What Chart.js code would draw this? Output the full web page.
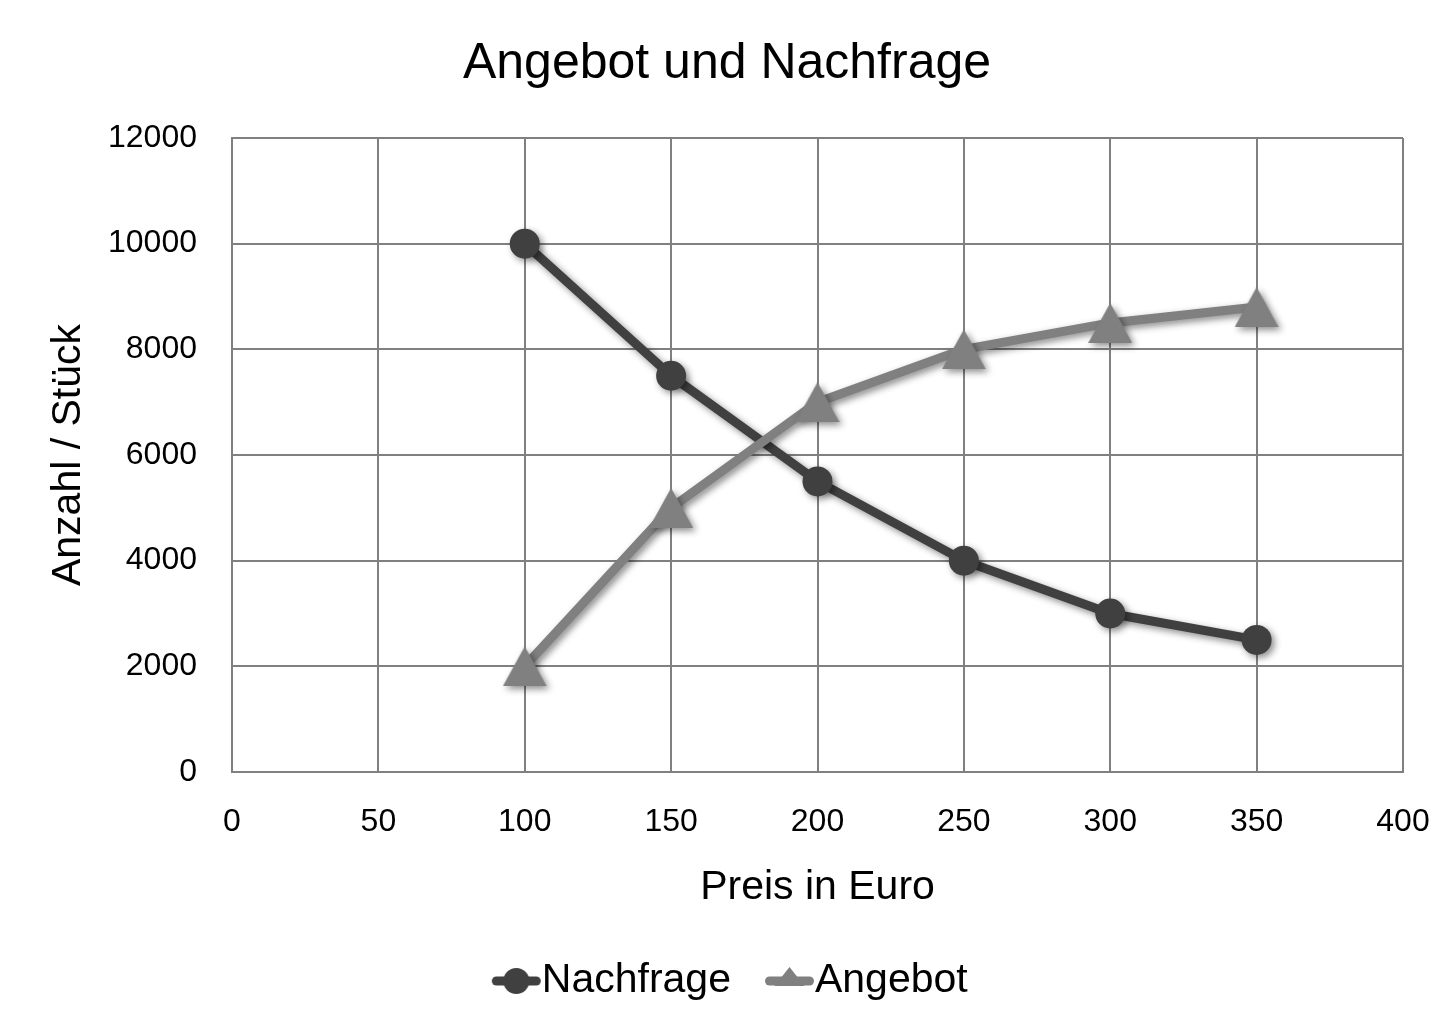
<!DOCTYPE html>
<html>
<head>
<meta charset="utf-8">
<script src="https://cdn.jsdelivr.net/npm/chart.js@4"></script>
<style>
html,body{margin:0;padding:0;background:#fff;}
#wrap{width:1454px;height:1025px;}
</style>
</head>
<body>
<div id="wrap"><canvas id="c" width="1454" height="1025"></canvas></div>
<script>
const chartTitle = "Angebot und Nachfrage";
const xTitle = "Preis in Euro";
const yTitle = "Anzahl / Stück";
const prices = [100, 150, 200, 250, 300, 350];
const nachfrage = [10000, 7500, 5500, 4000, 3000, 2500];
const angebot = [2000, 5000, 7000, 8000, 8500, 8800];
const seriesNames = ["Nachfrage", "Angebot"];
const xMin = 0, xMax = 400, xStep = 50;
const yMin = 0, yMax = 12000, yStep = 2000;

const DARK = '#404040';
const GREY = '#808080';
const FONT = '"Liberation Sans", Arial, sans-serif';
const LEG_B = 35;

function triangleImage(color, w, h) {
  const c = document.createElement('canvas');
  c.width = w; c.height = h;
  const x = c.getContext('2d');
  x.fillStyle = color;
  x.beginPath();
  x.moveTo(w / 2, 0);
  x.lineTo(w, h);
  x.lineTo(0, h);
  x.closePath();
  x.fill();
  return c;
}
const triPoint = triangleImage(GREY, 44, 40);

function legendImage(kind, color) {
  const W = LEG_B + 41;
  const H = 34;
  const c = document.createElement('canvas');
  c.width = W; c.height = H;
  const x = c.getContext('2d');
  const x0 = W - 50, x1 = W - 1, cy = H / 2;
  x.strokeStyle = color;
  x.fillStyle = color;
  x.lineWidth = 9;
  x.lineCap = 'round';
  x.beginPath();
  x.moveTo(x0 + 4.5, cy);
  x.lineTo(x1 - 4.5, cy);
  x.stroke();
  const mx = (x0 + x1) / 2;
  if (kind === 'circle') {
    x.beginPath();
    x.arc(mx, cy, 13, 0, Math.PI * 2);
    x.fill();
  } else {
    x.beginPath();
    x.moveTo(mx, cy - 14);
    x.lineTo(mx + 15, cy + 5);
    x.lineTo(mx - 15, cy + 5);
    x.closePath();
    x.fill();
  }
  return c;
}
const legNach = legendImage('circle', DARK);
const legAng = legendImage('triangle', GREY);

const shadowPlugin = {
  id: 'shadow',
  beforeDatasetsDraw(chart) {
    const ctx = chart.ctx;
    ctx.save();
    ctx.shadowColor = 'rgba(0,0,0,0.45)';
    ctx.shadowBlur = 7;
    ctx.shadowOffsetX = 3;
    ctx.shadowOffsetY = 3;
  },
  afterDatasetsDraw(chart) {
    chart.ctx.restore();
  }
};

const toPts = (arr) => prices.map((p, i) => ({x: p, y: arr[i]}));

new Chart(document.getElementById('c'), {
  type: 'line',
  data: {
    datasets: [
      {
        label: seriesNames[0],
        data: toPts(nachfrage),
        borderColor: DARK,
        backgroundColor: DARK,
        borderWidth: 9,
        pointRadius: 15,
        pointHoverRadius: 15,
        pointStyle: 'circle',
        pointBorderWidth: 0,
        tension: 0,
        borderCapStyle: 'round',
        borderJoinStyle: 'round',
        order: 1,
        clip: false
      },
      {
        label: seriesNames[1],
        data: toPts(angebot),
        borderColor: GREY,
        backgroundColor: GREY,
        borderWidth: 9,
        pointRadius: 22,
        pointHoverRadius: 22,
        pointStyle: triPoint,
        pointBorderWidth: 0,
        tension: 0,
        borderCapStyle: 'round',
        borderJoinStyle: 'round',
        order: 0,
        clip: false
      }
    ]
  },
  options: {
    responsive: false,
    animation: false,
    devicePixelRatio: 1,
    layout: { padding: { left: 0, right: 0, top: 0, bottom: 13.5 } },
    plugins: {
      tooltip: { enabled: false },
      title: {
        display: true,
        text: chartTitle,
        color: '#000',
        font: { family: FONT, size: 50, weight: 'normal', lineHeight: 1.2 },
        padding: { top: 34, bottom: 44 }
      },
      legend: {
        display: true,
        position: 'bottom',
        labels: {
          color: '#000',
          font: { family: FONT, size: 41 },
          usePointStyle: true,
          pointStyleWidth: LEG_B,
          padding: 28.5,
          generateLabels() {
            return [
              { text: seriesNames[0], pointStyle: legNach, fillStyle: DARK, strokeStyle: DARK, lineWidth: 0, hidden: false, datasetIndex: 0, fontColor: '#000' },
              { text: seriesNames[1], pointStyle: legAng, fillStyle: GREY, strokeStyle: GREY, lineWidth: 0, hidden: false, datasetIndex: 1, fontColor: '#000' }
            ];
          }
        }
      }
    },
    scales: {
      x: {
        type: 'linear',
        position: 'bottom',
        min: xMin, max: xMax,
        afterFit(s) { s.height = 164 - (28.5 - 24.5); s.paddingLeft = 0; s.paddingRight = 0; },
        ticks: {
          stepSize: xStep,
          color: '#000',
          padding: 31,
          font: { family: FONT, size: 32 },
          maxRotation: 0,
          callback: (v) => String(v)
        },
        grid: { color: GREY, lineWidth: 2, drawTicks: false },
        border: { color: GREY, width: 2 },
        title: {
          display: true,
          text: xTitle,
          color: '#000',
          font: { family: FONT, size: 41, lineHeight: 1.2 },
          padding: { top: 0, bottom: 23.4 - 4 }
        }
      },
      y: {
        type: 'linear',
        position: 'left',
        min: yMin, max: yMax,
        afterFit(s) { s.width = 232; },
        ticks: {
          stepSize: yStep,
          color: '#000',
          padding: 35,
          font: { family: FONT, size: 32 },
          callback: (v) => String(v)
        },
        grid: { color: GREY, lineWidth: 2, drawTicks: false },
        border: { color: GREY, width: 2 },
        title: {
          display: true,
          text: yTitle,
          color: '#000',
          font: { family: FONT, size: 41, lineHeight: 1.2 },
          padding: { top: 44.4, bottom: 0 }
        }
      },
      yRight: {
        type: 'linear',
        position: 'right',
        min: yMin, max: yMax,
        afterFit(s) { s.width = 51; },
        ticks: { display: false },
        grid: { display: false, drawTicks: false },
        border: { display: false }
      }
    }
  },
  plugins: [shadowPlugin]
});
</script>
</body>
</html>
